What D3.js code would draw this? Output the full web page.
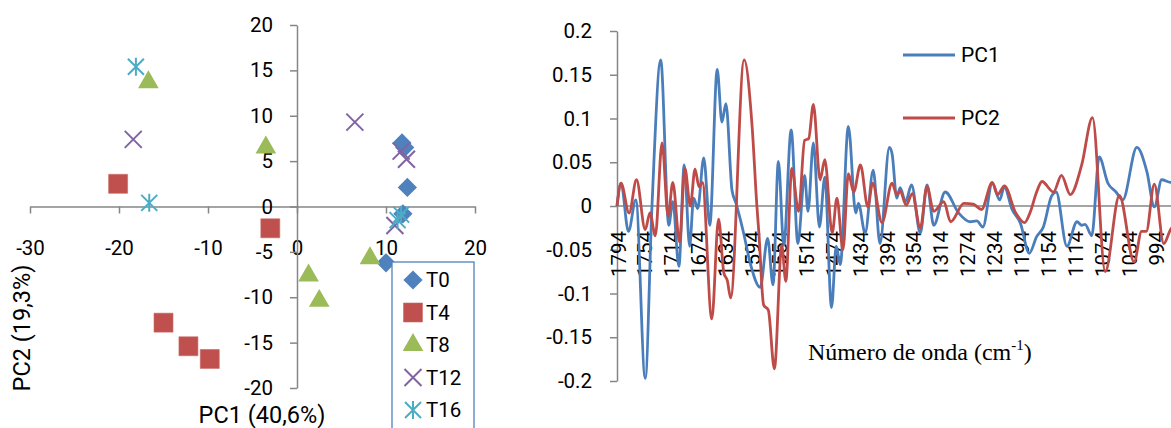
<!DOCTYPE html>
<head>
  <meta charset="utf-8">
  <script src="https://d3js.org/d3.v7.min.js"></script>
  <style>
    body { margin: 0; background: #fff; }
    svg { width: 1171px; height: 428px; display: block; }
    text { font-family: Roboto, sans-serif; fill: #000; }
  </style>
</head>

<body>
  <svg></svg>

  <script>
    // ---- score plot (PC1 vs PC2) ----
    const groups = ['T0', 'T4', 'T8', 'T12', 'T16'];
    const t0  = [[11.8, 7.0], [12.1, 6.5], [12.4, 2.1], [11.9, -0.8], [10.0, -6.2]];
    const t4  = [[-20.1, 2.5], [-3.0, -2.4], [-15.0, -12.8], [-12.2, -15.4], [-9.8, -16.8]];
    const t8  = [[-16.7, 13.7], [-3.5, 6.5], [8.2, -5.7], [1.3, -7.6], [2.5, -10.4]];
    const t12 = [[-18.4, 7.4], [6.5, 9.3], [11.7, 6.1], [12.3, 5.2], [11.0, -2.1]];
    const t16 = [[-18.1, 15.4], [-16.6, 0.4], [11.3, -1.5], [11.7, -0.9]];
    const scoreXTicks = [-30, -20, -10, 0, 10, 20];
    const scoreYTicks = [-20, -15, -10, -5, 0, 5, 10, 15, 20];

    // ---- loadings (wavenumber, loading) ----
    const pc1 = [[1794,0],[1788,0.026],[1777,-0.029],[1766,0.007],[1752,-0.197],[1742,0],[1729,0.167],
      [1717,-0.022],[1711,0.005],[1702,-0.069],[1694,0.047],[1686,-0.046],[1680,0.009],[1674,-0.003],
      [1665,0.055],[1656,-0.022],[1645,0.156],[1638,0.096],[1632,0.117],[1623,0.018],[1617,0.003],
      [1606,-0.03],[1596,-0.065],[1581,-0.093],[1570,-0.037],[1562,-0.090],[1554,0.051],[1546,-0.045],
      [1535,0.087],[1525,-0.043],[1515,0.035],[1510,-0.006],[1502,0.072],[1493,-0.024],[1485,0.033],
      [1475,-0.116],[1468,-0.046],[1462,-0.067],[1450,0.091],[1439,-0.008],[1435,0.003],[1425,-0.031],
      [1413,0.041],[1403,-0.043],[1389,0.067],[1385,0.06],[1378,0.009],[1373,0.021],[1365,0.005],
      [1356,0.024],[1343,-0.031],[1333,0.024],[1323,-0.022],[1306,0.016],[1286,-0.008],[1269,-0.018],
      [1259,-0.017],[1250,-0.024],[1236,0.026],[1225,0.007],[1218,0.022],[1207,-0.003],[1194,-0.020],
      [1181,-0.054],[1170,-0.035],[1160,-0.024],[1148,0.011],[1141,0.016],[1125,-0.046],[1110,-0.018],
      [1103,-0.022],[1098,-0.021],[1088,-0.034],[1077,0.056],[1064,0.026],[1052,0.016],[1042,0.007],
      [1021,0.067],[1006,0.039],[995,-0.001],[984,0.030],[971,0.027],[964,0.027]];
    const pc2 = [[1794,0],[1788,0.026],[1776,-0.008],[1765,0.030],[1752,-0.027],[1745,-0.008],[1737,-0.034],
      [1727,0.072],[1718,-0.012],[1711,0.027],[1701,-0.041],[1693,0.043],[1685,0.0],[1678,0.042],
      [1672,0.022],[1667,0.027],[1653,-0.129],[1643,-0.015],[1635,-0.077],[1630,-0.085],[1625,-0.105],
      [1605,0.167],[1593,0.09],[1586,0.0],[1583,-0.031],[1576,-0.113],[1569,-0.119],[1560,-0.186],
      [1549,-0.045],[1543,-0.086],[1534,0.043],[1524,-0.006],[1515,0.075],[1509,0.077],[1502,0.116],
      [1492,0.030],[1485,0.053],[1474,-0.031],[1467,0.009],[1458,-0.050],[1450,0.037],[1442,0.016],
      [1432,0.047],[1421,-0.001],[1414,0.026],[1400,-0.019],[1385,0.026],[1378,0.013],[1373,0.017],
      [1364,0.001],[1355,0.014],[1343,-0.025],[1333,0.022],[1323,-0.006],[1308,0.005],[1298,-0.018],
      [1278,0.003],[1264,0.002],[1252,-0.004],[1236,0.027],[1228,0.013],[1218,0.023],[1201,-0.008],
      [1188,-0.019],[1180,-0.008],[1170,0.016],[1162,0.028],[1145,0.016],[1133,0.035],[1120,0.013],
      [1103,0.047],[1087,0.101],[1068,-0.075],[1047,0.012],[1025,-0.064],[1014,-0.029],[1007,-0.029],
      [995,0.025],[981,-0.043],[971,-0.027],[964,-0.02]];
    const waveTicks = [1794,1754,1714,1674,1634,1594,1554,1514,1474,1434,1394,1354,1314,1274,1234,1194,1154,1114,1074,1034,994];
    const loadTicks = [-0.2, -0.15, -0.1, -0.05, 0, 0.05, 0.1, 0.15, 0.2];

    const axisGrey = '#868686';
    const colors = ['#4F81BD', '#C0504D', '#9BBB59', '#8064A2', '#4BACC6'];

    const svg = d3.select('svg');

    function styleAxis(g, size) {
      g.attr('font-family', 'Roboto, sans-serif').attr('font-size', size);
      g.selectAll('path, line').attr('stroke', axisGrey).attr('stroke-width', 1.5);
      g.selectAll('text').attr('fill', '#000');
    }

    /*****************************************************
    ** left: scores
    ******************************************************/
    const xL = d3.scaleLinear().domain([-30, 20]).range([30, 475]);
    const yL = d3.scaleLinear().domain([-20, 20]).range([388, 25]);

    svg.append('g')
      .attr('transform', `translate(0,${yL(0)})`)
      .call(d3.axisBottom(xL).tickValues(scoreXTicks).tickSize(7).tickSizeOuter(0)
        .tickPadding(27).tickFormat(d => String(d)))
      .call(g => styleAxis(g, 20.5));

    svg.append('g')
      .attr('transform', `translate(${xL(0)},0)`)
      .call(d3.axisLeft(yL).tickValues(scoreYTicks).tickSize(7).tickSizeOuter(0)
        .tickPadding(17).tickFormat(d => String(d)))
      .call(g => styleAxis(g, 20.5));

    // marker drawing
    function marker(sel, k) {
      const c = colors[k];
      if (k === 0) {
        sel.append('path').attr('d', d3.symbol(d3.symbolSquare, 185)())
          .attr('transform', 'rotate(45)').attr('fill', c);
      } else if (k === 1) {
        sel.append('path').attr('d', d3.symbol(d3.symbolSquare, 360)())
          .attr('fill', c).attr('stroke', '#c76a67').attr('stroke-width', 0.6);
      } else if (k === 2) {
        sel.append('path').attr('d', d3.symbol(d3.symbolTriangle, 185)()).attr('fill', c);
      } else if (k === 3) {
        sel.append('path').attr('d', 'M-8.5,-8.5L8.5,8.5M-8.5,8.5L8.5,-8.5')
          .attr('stroke', c).attr('stroke-width', 2).attr('fill', 'none');
      } else {
        sel.append('path').attr('d', 'M-8,-8L8,8M-8,8L8,-8M0,-9L0,9')
          .attr('stroke', c).attr('stroke-width', 2).attr('fill', 'none');
      }
    }

    const scoreSets = [t0, t4, t8, t12, t16];
    scoreSets.forEach((pts, k) => {
      svg.append('g').selectAll('g')
        .data(pts).enter().append('g')
        .attr('transform', d => `translate(${xL(d[0])},${yL(d[1])})`)
        .each(function () { marker(d3.select(this), k); });
    });

    // legend
    const leg = svg.append('g');
    leg.append('rect').attr('x', 392).attr('y', 262).attr('width', 82).attr('height', 190)
      .attr('fill', '#fff').attr('stroke', '#4F81BD').attr('stroke-width', 1.3);
    groups.forEach((name, k) => {
      const gy = 280 + k * 32.5;
      const item = leg.append('g').attr('transform', `translate(413,${gy})`);
      marker(item, k);
      leg.append('text').attr('x', 426).attr('y', gy).attr('dominant-baseline', 'central')
        .attr('font-size', 20.5).text(name);
    });

    svg.append('text').attr('x', 262).attr('y', 423).attr('text-anchor', 'middle')
      .attr('font-size', 23.5).text('PC1 (40,6%)');
    svg.append('text').attr('transform', 'translate(30,328) rotate(-90)')
      .attr('text-anchor', 'middle').attr('font-size', 23.5).text('PC2 (19,3%)');

    /*****************************************************
    ** right: loadings
    ******************************************************/
    const xR = d3.scaleLinear().domain([1794, 994]).range([617, 1155]);
    const yR = d3.scaleLinear().domain([-0.2, 0.2]).range([381, 31]);

    svg.append('g')
      .attr('transform', `translate(${xR(1794)},0)`)
      .call(d3.axisLeft(yR).tickValues(loadTicks).tickSize(7).tickSizeOuter(0)
        .tickPadding(18).tickFormat(d => String(d)))
      .call(g => styleAxis(g, 20.5));

    svg.append('line').attr('x1', xR(1794)).attr('x2', 1171)
      .attr('y1', yR(0)).attr('y2', yR(0))
      .attr('stroke', axisGrey).attr('stroke-width', 1.5);

    svg.append('g').selectAll('text')
      .data(waveTicks).enter().append('text')
      .attr('transform', d => `translate(${xR(d) + 1.5},231) rotate(-90)`)
      .attr('text-anchor', 'end').attr('dominant-baseline', 'central')
      .attr('font-size', 20.5).text(d => d);

    const line = d3.line()
      .x(d => xR(d[0])).y(d => yR(d[1]))
      .curve(d3.curveMonotoneX);

    svg.append('path').datum(pc1).attr('d', line)
      .attr('fill', 'none').attr('stroke', '#4A7EBB').attr('stroke-width', 2.8);
    svg.append('path').datum(pc2).attr('d', line)
      .attr('fill', 'none').attr('stroke', '#BE4B48').attr('stroke-width', 2.8);

    // legend
    [['PC1', '#4A7EBB', 55], ['PC2', '#BE4B48', 118]].forEach(([name, c, ly]) => {
      svg.append('line').attr('x1', 903).attr('x2', 955).attr('y1', ly).attr('y2', ly)
        .attr('stroke', c).attr('stroke-width', 2.8);
      svg.append('text').attr('x', 961).attr('y', ly).attr('dominant-baseline', 'central')
        .attr('font-size', 21).text(name);
    });

    const xt = svg.append('text').attr('x', 808).attr('y', 360)
      .style('font-family', '"Liberation Serif", "Times New Roman", serif')
      .attr('font-size', 24);
    xt.append('tspan').text('Número de onda (cm');
    xt.append('tspan').attr('font-size', 15).attr('dy', -10).text('-1');
    xt.append('tspan').attr('dy', 10).text(')');
  </script>
</body>
